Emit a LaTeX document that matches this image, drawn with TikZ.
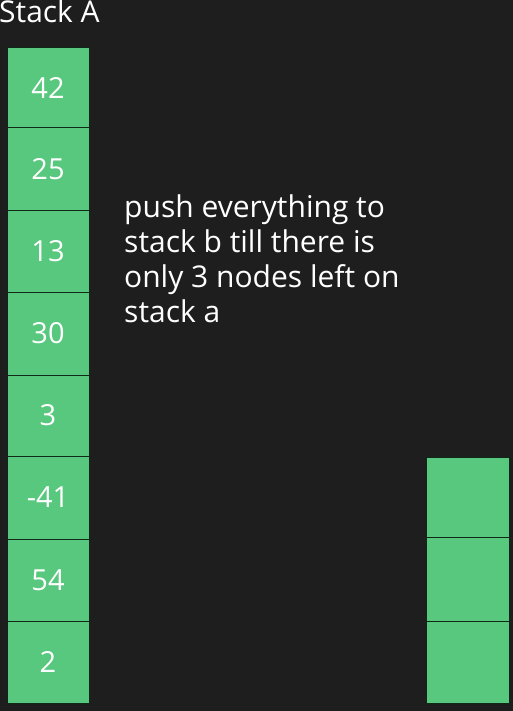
\documentclass[tikz,border=0pt]{standalone}
\usepackage{fontspec}
\setmainfont{Open Sans}
\definecolor{bg}{HTML}{1E1E1E}
\definecolor{boxgreen}{HTML}{57C87D}
\begin{document}
\begin{tikzpicture}[x=1pt,y=-1pt,
  cell/.style={draw=black!80!boxgreen,line width=1pt,fill=boxgreen,text=white,
    minimum width=82pt,inner sep=0pt,font=\fontsize{29}{32}\selectfont},
  lbl/.style={text=white,inner sep=0pt,anchor=base west}]
\fill[bg] (0,0) rectangle (513,711);
\useasboundingbox (0,0) rectangle (513,711);
\node[lbl,font=\fontsize{30}{34}\selectfont] (title) at (-1,22.5) {Stack A};
% stack A
\node[cell,minimum height=80pt] (a1) at (48,88) {42};
\node[cell,minimum height=83pt] (a2) at (48,169.5) {25};
\node[cell,minimum height=81pt] (a3) at (48,251.5) {13};
\node[cell,minimum height=83pt] (a4) at (48,333.5) {30};
\node[cell,minimum height=81pt] (a5) at (48,415.5) {3};
\node[cell,minimum height=83pt] (a6) at (48,497.5) {-41};
\node[cell,minimum height=82pt] (a7) at (48,580) {54};
\node[cell,minimum height=82pt] (a8) at (48,662) {2};
% stack B
\node[cell,minimum width=83pt,minimum height=80pt] (b1) at (467.5,497) {};
\node[cell,minimum width=83pt,minimum height=84pt] (b2) at (467.5,579) {};
\node[cell,minimum width=83pt,minimum height=82pt] (b3) at (467.5,662) {};
% note
\node[lbl,font=\fontsize{30}{35}\selectfont,align=left] (note) at (124,322)
  {push everything to\\stack b till there is\\only 3 nodes left on\\stack a};
\end{tikzpicture}
\end{document}
